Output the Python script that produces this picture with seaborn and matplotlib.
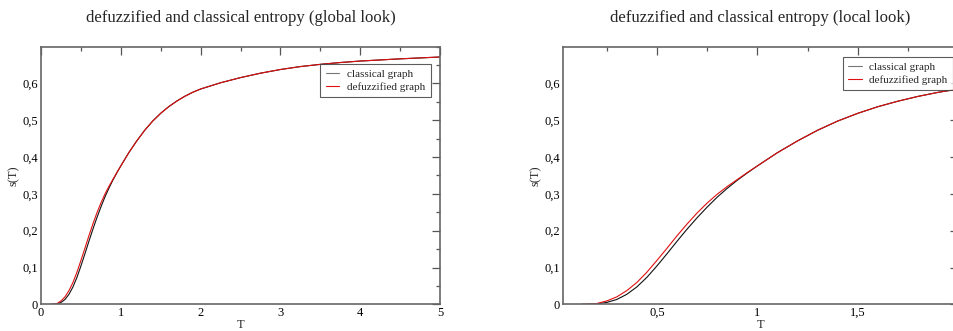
import matplotlib
matplotlib.use("Agg")
import matplotlib.pyplot as plt
from matplotlib.ticker import MultipleLocator, FuncFormatter
import seaborn as sns
import pandas as pd

# ---- data ----
T_classical = [0.13, 0.15, 0.2, 0.25, 0.3, 0.35, 0.4, 0.45, 0.5, 0.55, 0.6, 0.65, 0.7, 0.75,
               0.8, 0.85, 0.9, 0.95, 1.0, 1.1, 1.2, 1.3, 1.4, 1.5, 1.6, 1.7, 1.8, 1.9,
               2.0, 2.25, 2.5, 2.75, 3.0, 3.25, 3.5, 3.75, 4.0, 4.5, 5.0]
s_classical = [0.0, 0.0, 0.001, 0.005, 0.013, 0.027, 0.047, 0.073, 0.104, 0.137, 0.171, 0.204,
               0.235, 0.264, 0.291, 0.315, 0.337, 0.357, 0.376, 0.412, 0.444, 0.473, 0.498,
               0.519, 0.537, 0.552, 0.565, 0.576, 0.585, 0.602, 0.616, 0.628, 0.638, 0.646,
               0.652, 0.657, 0.661, 0.667, 0.672]
T_defuzz = [0.13, 0.15, 0.2, 0.25, 0.3, 0.35, 0.4, 0.45, 0.5, 0.55, 0.6, 0.65, 0.7, 0.75,
            0.8, 0.85, 0.9, 0.95, 1.0, 1.1, 1.2, 1.3, 1.4, 1.5, 1.6, 1.7, 1.8, 1.9,
            2.0, 2.25, 2.5, 2.75, 3.0, 3.25, 3.5, 3.75, 4.0, 4.5, 5.0]
s_defuzz = [0.0, 0.0, 0.002, 0.009, 0.020, 0.037, 0.059, 0.087, 0.119, 0.152, 0.186, 0.218,
            0.248, 0.275, 0.299, 0.320, 0.339, 0.358, 0.376, 0.412, 0.444, 0.473, 0.498,
            0.519, 0.537, 0.552, 0.565, 0.576, 0.585, 0.602, 0.616, 0.628, 0.638, 0.646,
            0.652, 0.657, 0.661, 0.667, 0.672]
series_names = ["classical graph", "defuzzified graph"]
titles = ["defuzzified and classical entropy (global look)",
          "defuzzified and classical entropy (local look)"]
xlabel = "T"
ylabel = "s(T)"

df = pd.concat([
    pd.DataFrame({"T": T_classical, "s": s_classical, "series": series_names[0]}),
    pd.DataFrame({"T": T_defuzz, "s": s_defuzz, "series": series_names[1]}),
], ignore_index=True)

sns.set_theme(style="white")
plt.rcParams["font.family"] = ["Liberation Serif", "DejaVu Serif"]

W, H = 954, 331
fig = plt.figure(figsize=(W / 100, H / 100), dpi=100)
ax1 = fig.add_axes([41 / W, (H - 304.3) / H, 399 / W, 257.6 / H])
ax2 = fig.add_axes([563 / W, (H - 304.3) / H, 395.3 / W, 257.6 / H])

palette = {series_names[0]: "#111111", series_names[1]: "#e01010"}
fmt = FuncFormatter(lambda v, p: ("%g" % round(v, 3)).replace(".", ","))

configs = [
    (ax1, (0, 5), 1, 0.5, (0.977, 0.933), titles[0]),
    (ax2, (0.033, 2.0), 0.5, 0.25, (0.987, 0.96), titles[1]),
]
for ax, xl, xmaj, xmin, anchor, title in configs:
    sns.lineplot(data=df, x="T", y="s", hue="series", palette=palette, ax=ax,
                 linewidth=0.8, sort=False, estimator=None)
    ax.set_xlim(*xl)
    ax.set_ylim(0, 0.7)
    ax.xaxis.set_major_locator(MultipleLocator(xmaj))
    ax.xaxis.set_minor_locator(MultipleLocator(xmin))
    ax.yaxis.set_major_locator(MultipleLocator(0.1))
    ax.yaxis.set_minor_locator(MultipleLocator(0.05))
    ax.xaxis.set_major_formatter(fmt)
    ax.yaxis.set_major_formatter(fmt)
    ax.set_yticks([0, 0.1, 0.2, 0.3, 0.4, 0.5, 0.6])
    ax.tick_params(which="both", direction="in", top=True, right=True,
                   colors="#555555", labelcolor="black", labelsize=9, pad=2)
    ax.tick_params(which="major", length=6, width=0.9)
    ax.tick_params(which="minor", length=3, width=0.9)
    for sp in ax.spines.values():
        sp.set_color("#666666")
        sp.set_linewidth(1.2)
    ax.set_xlabel(xlabel, fontsize=9, labelpad=0)
    ax.set_ylabel(ylabel, fontsize=9, labelpad=2)
    ax.set_title(title, fontsize=12, pad=18)
    leg = ax.legend(loc="upper right", bbox_to_anchor=anchor, borderaxespad=0,
                    fontsize=8, frameon=True, fancybox=False, handlelength=1.2,
                    handletextpad=0.7, borderpad=0.5, labelspacing=0.25)
    leg.get_frame().set_edgecolor("#333333")
    leg.get_frame().set_linewidth(0.8)
    leg.set_title(None)
    leg.legend_handles[0].set_color("#777777")
    leg.legend_handles[1].set_color("#e01010")

ax2.set_xticks([0.5, 1.0, 1.5])

fig.savefig("out.png", dpi=100)
